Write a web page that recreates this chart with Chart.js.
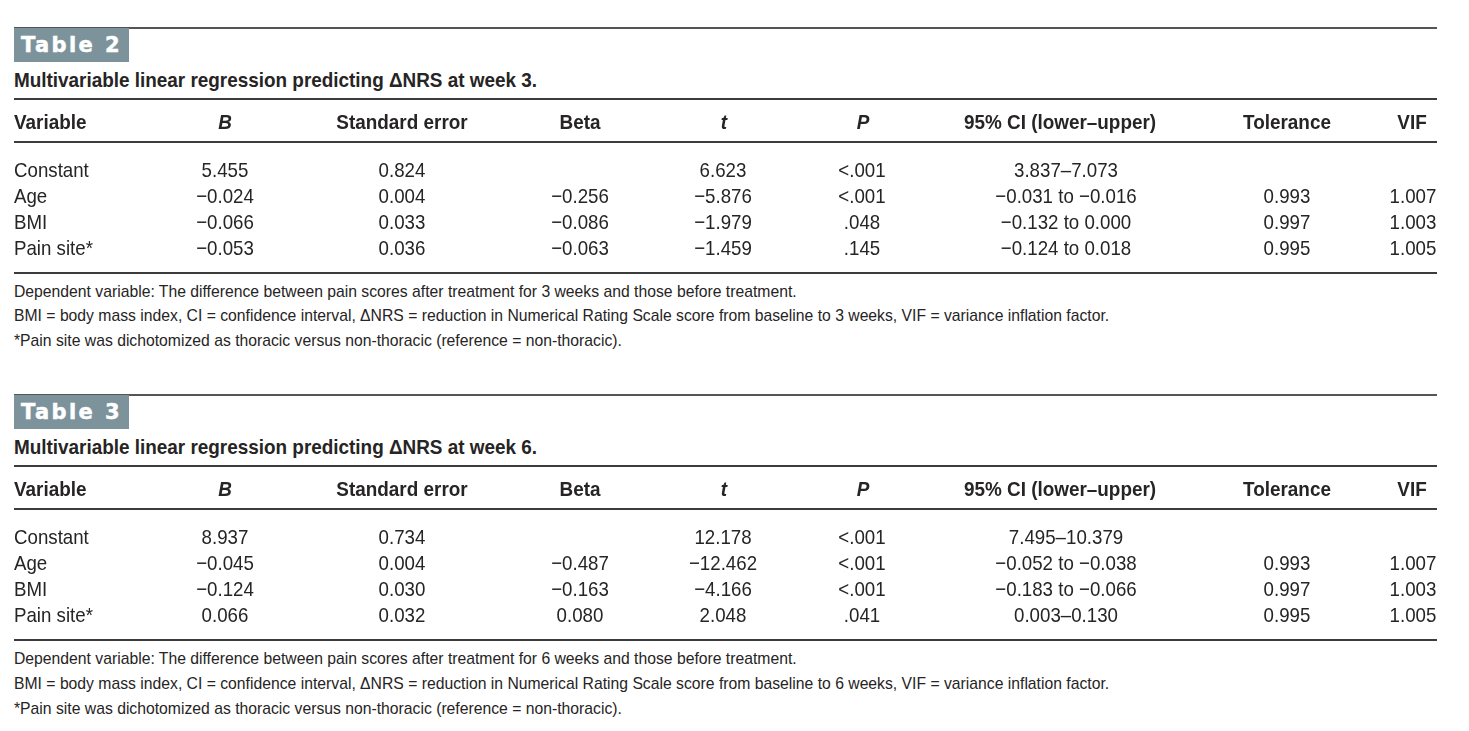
<!DOCTYPE html>
<html>
<head>
<meta charset="utf-8">
<script src="https://cdn.jsdelivr.net/npm/chart.js@4.4.1/dist/chart.umd.min.js"></script>
<style>
  body { margin: 0; background: #fff; width: 1469px; height: 731px; overflow: hidden; position: relative;
         font-family: "Liberation Sans", Arial, sans-serif; color: #262424; }
  .topRule { position: absolute; left: 14px; width: 1423px; height: 1.5px; background: #555; }
  .tag { position: absolute; left: 14px; width: 115px; height: 34px; background: #7d939c; color: #fff;
         font: bold 21px "DejaVu Sans", sans-serif; letter-spacing: 2.4px; line-height: 34px; text-indent: 7px;
         -webkit-text-stroke: 0.5px #fff; }
  .narrow { position: absolute; left: 14px; white-space: nowrap; transform-origin: 0 0; }
  .title { font-weight: bold; font-size: 21px; line-height: 24px; transform: scaleX(0.9); }
  .note { font-size: 17px; line-height: 20px; transform: scaleX(0.925); }
  .box { position: absolute; left: 0; width: 1469px; height: 177px; }
</style>
</head>
<body>

<div class="topRule" style="top:27px"></div>
<div class="tag" style="top:28px">Table 2</div>
<div class="narrow title" style="top:68px">Multivariable linear regression predicting ΔNRS at week 3.</div>
<div class="box" style="top:98px"><canvas id="table2"></canvas></div>
<div class="narrow note" style="top:282px">Dependent variable: The difference between pain scores after treatment for 3 weeks and those before treatment.</div>
<div class="narrow note" style="top:306px">BMI = body mass index, CI = confidence interval, ΔNRS = reduction in Numerical Rating Scale score from baseline to 3 weeks, VIF = variance inflation factor.</div>
<div class="narrow note" style="top:331px">*Pain site was dichotomized as thoracic versus non-thoracic (reference = non-thoracic).</div>

<div class="topRule" style="top:394px"></div>
<div class="tag" style="top:395px">Table 3</div>
<div class="narrow title" style="top:435px">Multivariable linear regression predicting ΔNRS at week 6.</div>
<div class="box" style="top:465px"><canvas id="table3"></canvas></div>
<div class="narrow note" style="top:649px">Dependent variable: The difference between pain scores after treatment for 6 weeks and those before treatment.</div>
<div class="narrow note" style="top:674px">BMI = body mass index, CI = confidence interval, ΔNRS = reduction in Numerical Rating Scale score from baseline to 6 weeks, VIF = variance inflation factor.</div>
<div class="narrow note" style="top:699px">*Pain site was dichotomized as thoracic versus non-thoracic (reference = non-thoracic).</div>

<script>
// 표 데이터
const columns = ['Variable', 'B', 'Standard error', 'Beta', 't', 'P', '95% CI (lower–upper)', 'Tolerance', 'VIF'];
const variables = ['Constant', 'Age', 'BMI', 'Pain site*'];

// Table 2: week 3
const w3B = [5.455, -0.024, -0.066, -0.053];
const w3SE = [0.824, 0.004, 0.033, 0.036];
const w3Beta = [null, -0.256, -0.086, -0.063];
const w3T = [6.623, -5.876, -1.979, -1.459];
const w3P = ['<.001', '<.001', '.048', '.145'];
const w3Lower = [3.837, -0.031, -0.132, -0.124];
const w3Upper = [7.073, -0.016, 0.000, 0.018];
const w3Tol = [null, 0.993, 0.997, 0.995];
const w3VIF = [null, 1.007, 1.003, 1.005];

// Table 3: week 6
const w6B = [8.937, -0.045, -0.124, 0.066];
const w6SE = [0.734, 0.004, 0.030, 0.032];
const w6Beta = [null, -0.487, -0.163, 0.080];
const w6T = [12.178, -12.462, -4.166, 2.048];
const w6P = ['<.001', '<.001', '<.001', '.041'];
const w6Lower = [7.495, -0.052, -0.183, 0.003];
const w6Upper = [10.379, -0.038, -0.066, 0.130];
const w6Tol = [null, 0.993, 0.997, 0.995];
const w6VIF = [null, 1.007, 1.003, 1.005];

// 레이아웃 (열 위치, 스타일)
const cellX = [0, 211, 388, 566, 709, 848, 1052, 1273, 1399];
const headX = [0, 211, 388, 566, 710, 849, 1046, 1273, 1398];
const italicHead = [false, true, false, false, true, true, false, false, false];
const FONT = '"Liberation Sans", Arial, sans-serif';
const SQUEEZE_HEAD = 0.9;  // 좁은 글꼴 흉내
const SQUEEZE_CELL = 0.89;
const INK = '#262424';

function fmt(v) {
    if (v === null || v === undefined) return null;
    return v.toFixed(3).replace('-', '\u2212');
}

function fmtCI(lo, hi) {
    // 하한이 음수면 "to", 아니면 en dash
    return lo < 0 ? `${fmt(lo)} to ${fmt(hi)}` : `${fmt(lo)}\u2013${fmt(hi)}`;
}

function buildColumns(B, SE, Beta, T, P, Lower, Upper, Tol, VIF) {
    return [
        variables.slice(),
        B.map(fmt),
        SE.map(fmt),
        Beta.map(fmt),
        T.map(fmt),
        P.slice(),
        Lower.map((lo, i) => fmtCI(lo, Upper[i])),
        Tol.map(fmt),
        VIF.map(fmt)
    ];
}

function narrowText(ctx, text, x, y, squeeze) {
    ctx.save();
    ctx.translate(x, y);
    ctx.scale(squeeze, 1);
    ctx.fillText(text, 0, 0);
    ctx.restore();
}

// 셀 텍스트와 표 선을 그리는 플러그인
const tablePlugin = {
    id: 'tableText',
    afterDatasetsDraw(chart) {
        const ctx = chart.ctx;
        const xs = chart.scales.x;
        const area = chart.chartArea;
        ctx.save();
        ctx.fillStyle = INK;
        ctx.textBaseline = 'alphabetic';

        // 가로 선
        ctx.strokeStyle = '#3c3c3c';
        ctx.lineWidth = 2;
        [area.top - 57, area.top - 14, area.bottom + 13].forEach(y => {
            ctx.beginPath();
            ctx.moveTo(area.left, y);
            ctx.lineTo(area.right, y);
            ctx.stroke();
        });

        // 헤더
        columns.forEach((name, i) => {
            ctx.font = `${italicHead[i] ? 'italic ' : ''}bold 21px ${FONT}`;
            ctx.textAlign = i === 0 ? 'left' : 'center';
            narrowText(ctx, name, xs.getPixelForValue(headX[i]), area.top - 27, SQUEEZE_HEAD);
        });

        // 셀
        ctx.font = `21px ${FONT}`;
        chart.data.datasets.forEach((ds, i) => {
            const meta = chart.getDatasetMeta(i);
            ctx.textAlign = i === 0 ? 'left' : 'center';
            meta.data.forEach((pt, j) => {
                const raw = ds.data[j];
                if (!raw || raw.text === null) return;
                narrowText(ctx, raw.text, pt.x, pt.y + 8, SQUEEZE_CELL);
            });
        });
        ctx.restore();
    }
};

function createTable(canvasId, cols) {
    const ctx = document.getElementById(canvasId).getContext('2d');
    new Chart(ctx, {
        type: 'scatter',
        data: {
            datasets: cols.map((texts, i) => ({
                label: columns[i],
                data: texts.map((t, j) => ({ x: cellX[i], y: variables[j], text: t })),
                pointRadius: 0,
                pointHoverRadius: 0
            }))
        },
        options: {
            responsive: true,
            maintainAspectRatio: false,
            animation: false,
            events: [],
            layout: { padding: { left: 14, right: 32, top: 58, bottom: 15 } },
            plugins: { legend: { display: false }, tooltip: { enabled: false } },
            scales: {
                x: { type: 'linear', min: 0, max: 1423, display: false },
                y: { type: 'category', labels: variables, offset: true, display: false }
            }
        },
        plugins: [tablePlugin]
    });
}

createTable('table2', buildColumns(w3B, w3SE, w3Beta, w3T, w3P, w3Lower, w3Upper, w3Tol, w3VIF));
createTable('table3', buildColumns(w6B, w6SE, w6Beta, w6T, w6P, w6Lower, w6Upper, w6Tol, w6VIF));
</script>
</body>
</html>
